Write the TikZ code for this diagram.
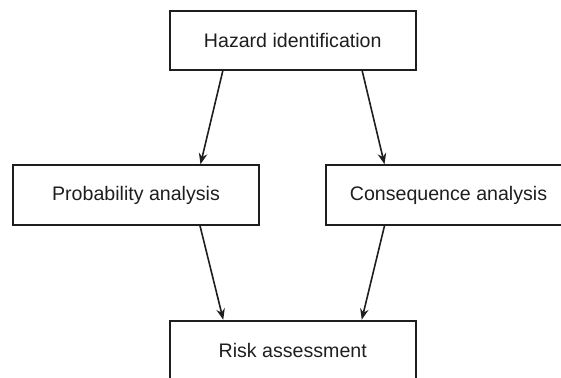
\documentclass[tikz,border=0pt]{standalone}
\usepackage{fontspec}
\setmainfont{Liberation Sans}
\usetikzlibrary{arrows.meta}
\definecolor{ink}{HTML}{1E1E1E}
\begin{document}
\begin{tikzpicture}[x=1pt,y=-1pt,
  box/.style={draw=ink, line width=2pt, minimum width=246pt, minimum height=59.5pt,
    inner sep=0pt, text=ink, font=\fontsize{19.6}{23}\selectfont},
  conn/.style={draw=ink, line width=1.6pt, -{Stealth[length=11pt,width=8.5pt]}}]
\useasboundingbox (0,0) rectangle (561,377);
\node[box] (hz) at (292.75,40.3) {Hazard identification};
\node[box] (pa) at (136,195) {Probability analysis};
\node[box] (ca) at (448.5,195) {Consequence analysis};
\node[box] (ra) at (292.75,350.5) {Risk assessment};
\draw[conn] ([xshift=-70pt]hz.south) -- ([xshift=64.5pt]pa.north);
\draw[conn] ([xshift=69.5pt]hz.south) -- ([xshift=-64pt]ca.north);
\draw[conn] ([xshift=64pt]pa.south) -- ([xshift=-69.5pt]ra.north);
\draw[conn] ([xshift=-64pt]ca.south) -- ([xshift=69pt]ra.north);
\end{tikzpicture}
\end{document}
